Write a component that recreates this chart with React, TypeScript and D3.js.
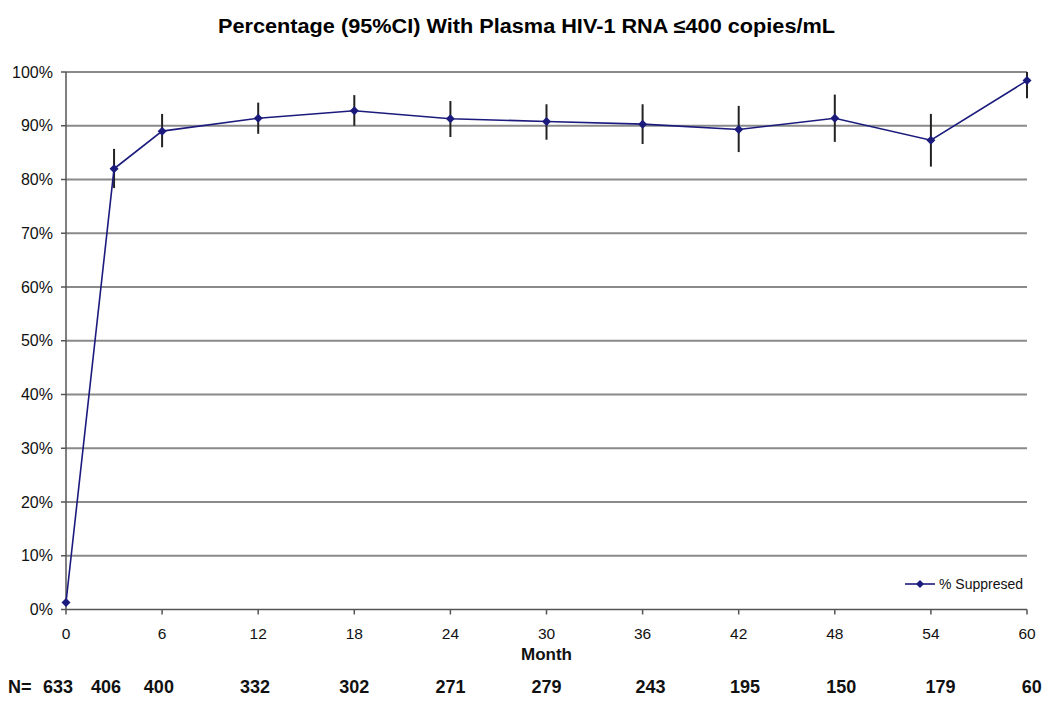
import React from "react";
import * as d3 from "d3";

const months = [0, 3, 6, 12, 18, 24, 30, 36, 42, 48, 54, 60];
const pctSuppressed = [1.3, 82.0, 89.0, 91.4, 92.8, 91.3, 90.8, 90.3, 89.3, 91.4, 87.3, 98.4];
const ciLower = [null, 78.4, 86.0, 88.5, 90.0, 87.9, 87.4, 86.6, 85.1, 87.0, 82.4, 95.1];
const ciUpper = [null, 85.7, 92.2, 94.3, 95.7, 94.6, 94.0, 94.0, 93.7, 95.8, 92.2, 100.0];
const xTicks = [0, 6, 12, 18, 24, 30, 36, 42, 48, 54, 60];
const yTicks = [0, 10, 20, 30, 40, 50, 60, 70, 80, 90, 100];
const nValues = ["633", "406", "400", "332", "302", "271", "279", "243", "195", "150", "179", "60"];
const nLabelMonths = [-0.5, 2.5, 5.8, 11.8, 18, 24, 30, 36.5, 42.4, 48.4, 54.6, 60.3];

const title = "Percentage (95%CI) With Plasma HIV-1 RNA \u2264400 copies/mL";
const seriesName = "% Suppresed";

export default function App() {
  const W = 1050, H = 726;
  const x = d3.scaleLinear().domain([0, 60]).range([66, 1027]);
  const y = d3.scaleLinear().domain([0, 100]).range([609.5, 72]);
  const line = d3.line<number>().x((_, i) => x(months[i])).y((d) => y(d));
  const font = "Liberation Sans, Arial, Helvetica, sans-serif";
  const navy = "#1b1b7d";
  const diamond = (cx: number, cy: number, r = 4.5) =>
    `M${cx},${cy - r}L${cx + r},${cy}L${cx},${cy + r}L${cx - r},${cy}Z`;

  return (
    <svg width={W} height={H} style={{ position: "absolute", left: 0, top: 0, background: "#fff" }} fontFamily={font}>
      <rect width={W} height={H} fill="#fff" />
      <text x={218} y={33} fontSize={20} fontWeight="bold" fill="#000" textLength={617} lengthAdjust="spacingAndGlyphs">{title}</text>
      {/* gridlines */}
      {yTicks.filter((t) => t > 0).map((t) => (
        <line key={t} x1={x(0)} x2={x(60)} y1={y(t)} y2={y(t)} stroke="#8a8a8a" strokeWidth={2} />
      ))}
      {/* y axis */}
      <line x1={x(0)} x2={x(0)} y1={y(100)} y2={y(0)} stroke="#555" strokeWidth={1.5} />
      {yTicks.map((t) => (
        <g key={t}>
          <line x1={x(0) - 5} x2={x(0)} y1={y(t)} y2={y(t)} stroke="#555" strokeWidth={1.5} />
          <text x={53} y={y(t) + 5.5} textAnchor="end" fontSize={16} fill="#111">{t}%</text>
        </g>
      ))}
      {/* x axis */}
      <line x1={x(0)} x2={x(60)} y1={y(0)} y2={y(0)} stroke="#555" strokeWidth={1.5} />
      {xTicks.map((t) => (
        <g key={t}>
          <line x1={x(t)} x2={x(t)} y1={y(0)} y2={y(0) + 5} stroke="#555" strokeWidth={1.5} />
          <text x={x(t)} y={639} textAnchor="middle" fontSize={15.5} fill="#111">{t}</text>
        </g>
      ))}
      <text x={x(30)} y={660} textAnchor="middle" fontSize={17} fontWeight="bold" fill="#111">Month</text>
      {/* N row */}
      <text x={8} y={693} fontSize={18} fontWeight="bold" fill="#111">N=</text>
      {nValues.map((n, i) => (
        <text key={i} x={x(nLabelMonths[i])} y={693} textAnchor="middle" fontSize={18} fontWeight="bold" fill="#111">{n}</text>
      ))}
      {/* error bars */}
      {months.map((m, i) =>
        ciLower[i] == null ? null : (
          <line key={m} x1={x(m)} x2={x(m)} y1={y(ciLower[i] as number)} y2={y(ciUpper[i] as number)} stroke="#222" strokeWidth={2} />
        )
      )}
      {/* series line */}
      <path d={line(pctSuppressed) || ""} fill="none" stroke={navy} strokeWidth={1.6} />
      {pctSuppressed.map((v, i) => (
        <path key={i} d={diamond(x(months[i]), y(v))} fill={navy} />
      ))}
      {/* legend */}
      <line x1={905} x2={935} y1={584} y2={584} stroke={navy} strokeWidth={1.6} />
      <path d={diamond(920, 584, 4)} fill={navy} />
      <text x={939} y={589} fontSize={14} fill="#111">{seriesName}</text>
    </svg>
  );
}
